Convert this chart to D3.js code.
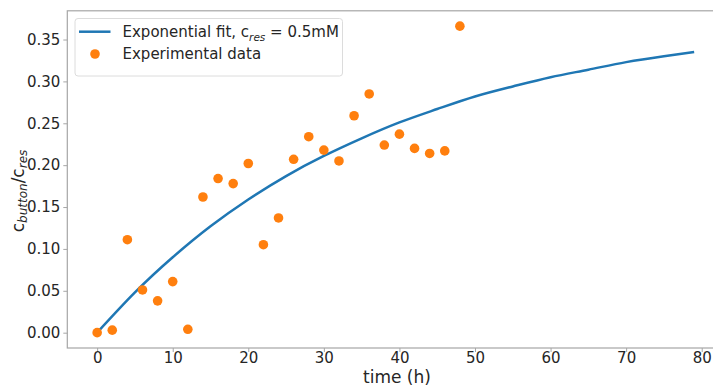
<!DOCTYPE html>
<html>
<head>
<meta charset="utf-8">
<script src="https://cdn.jsdelivr.net/npm/d3@7"></script>
<style>
  body { margin: 0; background: #fff; }
  svg { display: block; font-family: "DejaVu Sans", sans-serif; }
</style>
</head>
<body>
<div id="chart"></div>
<script>
// experimental points
const expTime  = [0, 2, 4, 6, 8, 10, 12, 14, 16, 18, 20, 22, 24, 26, 28, 30, 32, 34, 36, 38, 40, 42, 44, 46, 48];
const expValue = [0.000, 0.003, 0.111, 0.051, 0.038, 0.061, 0.004, 0.162, 0.184, 0.178, 0.202, 0.105, 0.137, 0.207,
                  0.234, 0.218, 0.205, 0.259, 0.285, 0.224, 0.237, 0.220, 0.214, 0.217, 0.366];

// fitted curve
const fitTime  = [0, 5, 10, 15, 20, 25, 30, 35, 40, 45, 50, 55, 60, 65, 70, 75, 79];
const fitValue = [0.000, 0.048, 0.090, 0.127, 0.159, 0.187, 0.211, 0.232, 0.251, 0.267, 0.282, 0.294,
                  0.305, 0.314, 0.323, 0.330, 0.335];

const xTicks = [0, 10, 20, 30, 40, 50, 60, 70, 80];
const yTicks = [0, 0.05, 0.10, 0.15, 0.20, 0.25, 0.30, 0.35];

var width = 713,
    height = 387;
var plotLeft = 67.3, plotTop = 10.8, plotBottom = 348;
// the right spine falls outside the picture
var plotRight = 724;

var x = d3.scaleLinear().domain([-3.95, 82.95]).range([plotLeft, plotRight]);
var y = d3.scaleLinear().domain([-0.0183, 0.3843]).range([plotBottom, plotTop]);

var svg = d3.select("#chart")
    .append("svg")
        .attr("width", width)
        .attr("height", height);

// frame
svg.append("rect")
    .attr("x", plotLeft).attr("y", plotTop)
    .attr("width", plotRight - plotLeft).attr("height", plotBottom - plotTop)
    .attr("fill", "none")
    .attr("stroke", "#a6a6a6")
    .attr("stroke-width", 1.2);

// axes
var xAxis = svg.append("g")
    .attr("transform", "translate(0," + plotBottom + ")")
    .call(d3.axisBottom(x).tickValues(xTicks).tickSize(4).tickPadding(0).tickFormat(d3.format("d")));
var yAxis = svg.append("g")
    .attr("transform", "translate(" + plotLeft + ",0)")
    .call(d3.axisLeft(y).tickValues(yTicks).tickSize(4).tickPadding(3).tickFormat(d3.format(".2f")));

[xAxis, yAxis].forEach(function(g) {
    g.select(".domain").remove();
    g.selectAll(".tick line").attr("stroke", "#a6a6a6");
    g.selectAll(".tick text")
        .attr("fill", "#262626")
        .style("font-size", "15px")
        .style("font-family", "DejaVu Sans");
});

// axis labels
svg.append("text")
    .attr("x", 397)
    .attr("y", 383)
    .attr("text-anchor", "middle")
    .attr("fill", "#262626")
    .style("font-size", "17px")
    .text("time (h)");

var ylab = svg.append("text")
    .attr("transform", "translate(24,191) rotate(-90)")
    .attr("text-anchor", "middle")
    .attr("fill", "#262626")
    .style("font-size", "17px");
ylab.append("tspan").text("c");
ylab.append("tspan").attr("dy", 3).style("font-size", "12px").style("font-style", "italic").text("button");
ylab.append("tspan").attr("dy", -3).text("/c");
ylab.append("tspan").attr("dy", 3).style("font-size", "12px").style("font-style", "italic").text("res");

// fit line
var line = d3.line()
    .x((d, i) => x(fitTime[i]))
    .y(d => y(d))
    .curve(d3.curveNatural);

svg.append("path")
    .datum(fitValue)
    .attr("d", line)
    .attr("fill", "none")
    .attr("stroke", "#1f77b4")
    .attr("stroke-width", 2.5);

// data points
svg.selectAll("circle.pt")
    .data(expValue)
    .enter()
    .append("circle")
        .attr("class", "pt")
        .attr("cx", (d, i) => x(expTime[i]))
        .attr("cy", d => y(d))
        .attr("r", 4.8)
        .attr("fill", "#ff7f0e");

// legend
var lg = svg.append("g");
lg.append("rect")
    .attr("x", 75).attr("y", 18.5)
    .attr("width", 267.5).attr("height", 57.5)
    .attr("rx", 3)
    .attr("fill", "#fff")
    .attr("fill-opacity", 0.8)
    .attr("stroke", "#dcdcdc")
    .attr("stroke-width", 1);
lg.append("line")
    .attr("x1", 79).attr("x2", 110.5)
    .attr("y1", 31.7).attr("y2", 31.7)
    .attr("stroke", "#1f77b4")
    .attr("stroke-width", 2.5);
lg.append("circle")
    .attr("cx", 95).attr("cy", 54)
    .attr("r", 4.8)
    .attr("fill", "#ff7f0e");

var t1 = lg.append("text")
    .attr("x", 122.5).attr("y", 37)
    .attr("fill", "#262626")
    .style("font-size", "15px");
t1.append("tspan").text("Exponential fit, c");
t1.append("tspan").attr("dy", 3.5).style("font-size", "10.5px").style("font-style", "italic").text("res");
t1.append("tspan").attr("dy", -3.5).text(" = 0.5mM");

lg.append("text")
    .attr("x", 122.5).attr("y", 59)
    .attr("fill", "#262626")
    .style("font-size", "15px")
    .text("Experimental data");
</script>
</body>
</html>
